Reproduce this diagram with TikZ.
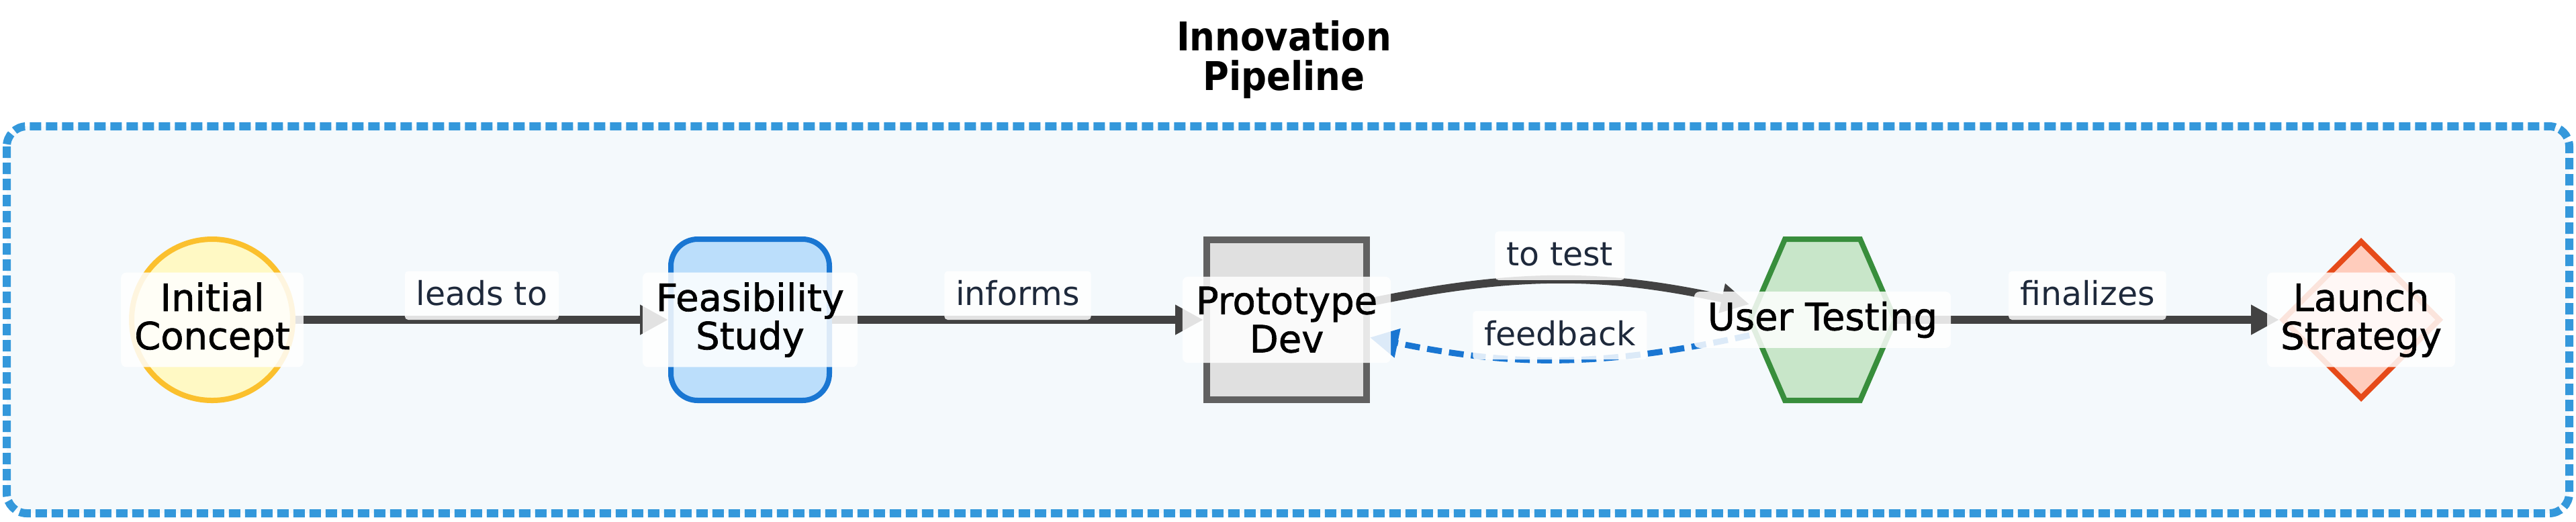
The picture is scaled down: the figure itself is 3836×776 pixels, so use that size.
\documentclass[tikz,border=0pt]{standalone}
\usepackage{fontspec}
\setmainfont{DejaVu Sans}
\newfontfamily\ttlfont{DejaVu Sans Condensed Bold}
\newfontfamily\nodefont{DejaVu Sans}[FakeBold=1.2]
\usetikzlibrary{arrows.meta,shapes.geometric}

\definecolor{framefill}{HTML}{F4F9FC}
\definecolor{frameline}{HTML}{3498DB}
\definecolor{edgegray}{HTML}{424242}
\definecolor{fbblue}{HTML}{1976D2}
\definecolor{lbltext}{HTML}{1E293B}
\definecolor{icfill}{HTML}{FFF9C4}
\definecolor{icline}{HTML}{FBC02D}
\definecolor{fsfill}{HTML}{BBDEFB}
\definecolor{fsline}{HTML}{1976D2}
\definecolor{pdfill}{HTML}{E0E0E0}
\definecolor{pdline}{HTML}{616161}
\definecolor{utfill}{HTML}{C8E6C9}
\definecolor{utline}{HTML}{388E3C}
\definecolor{lsfill}{HTML}{FFCCBC}
\definecolor{lsline}{HTML}{E64A19}

\begin{document}
\begin{tikzpicture}[x=0.25pt,y=0.25pt,yscale=-1,
  shp/.style={line width=2pt,inner sep=0pt},
  txtbox/.style={fill=white,fill opacity=0.85,text opacity=1,rounded corners=2pt,
    inner xsep=5pt,inner ysep=3.7pt,outer sep=0pt,align=center,font=\nodefont\fontsize{14}{14.25}\selectfont},
  lbl/.style={fill=white,fill opacity=0.85,text opacity=1,text=lbltext,rounded corners=1.25pt,
    inner xsep=4.25pt,inner ysep=3.3pt,outer sep=0pt,text height=9.5pt,text depth=2pt,
    font=\fontsize{12.25}{14}\selectfont,anchor=south},
  flow/.style={draw=edgegray,line width=3pt,-{Triangle[length=10.5pt,width=10.5pt]}}]
\useasboundingbox (0,0) rectangle (3836,776);

%Shape: Frame
\draw [draw=frameline,fill=framefill,line width=3pt,dash pattern=on 4.25pt off 1.75pt,rounded corners=7.5pt] (10,188) rectangle (3826,764) ;
% Text Node
\node [font=\ttlfont\fontsize{14.75}{14.75}\selectfont,align=center,inner sep=0pt] (ttl) at (1912,89) {Innovation\\Pipeline};

%Shape: Circle
\node [shp,circle,draw=icline,fill=icfill,minimum size=60pt] (ic) at (316,476) {};
%Shape: Rounded Rectangle
\node [shp,rectangle,rounded corners=10pt,draw=fsline,fill=fsfill,minimum width=59pt,minimum height=60pt] (fs) at (1117,476) {};
%Shape: Rectangle
\node [shp,rectangle,line width=2.5pt,draw=pdline,fill=pdfill,minimum width=59.5pt,minimum height=59.5pt] (pd) at (1916,476) {};
%Shape: Hexagon
\draw [line width=2pt,draw=utline,fill=utfill] (2606,476) -- (2658,356) -- (2770,356) -- (2822,476) -- (2770,596) -- (2658,596) -- cycle ;
\node [inner sep=0pt,minimum width=54pt,minimum height=60pt] (ut) at (2714,476) {};
%Shape: Diamond
\node [shp,diamond,aspect=1,draw=lsline,fill=lsfill,minimum width=59pt,minimum height=59pt] (ls) at (3516,476) {};

%Connectors
\draw [flow] (ic) -- (fs) node [lbl,midway] (lt) {leads to};
\draw [flow] (fs) -- (pd) node [lbl,midway] (inf) {informs};
\draw [flow] (pd) to [bend right=12] node [lbl,midway] (tt) {to test} (ut);
\draw [flow,draw=fbblue,line width=2.25pt,dash pattern=on 5.5pt off 2.75pt] (ut) to [bend right=12] node [lbl,midway] (fb) {feedback} (pd);
\draw [flow] (ut) -- (ls) node [lbl,midway] (fin) {finalizes};

% Text Node
\node [txtbox] (icT) at (ic) {Initial\\Concept};
% Text Node
\node [txtbox] (fsT) at (fs) {Feasibility\\Study};
% Text Node
\node [txtbox] (pdT) at (pd) {Prototype\\Dev};
% Text Node
\node [txtbox] (utT) at (ut) {User Testing};
% Text Node
\node [txtbox] (lsT) at (ls) {Launch\\Strategy};

\end{tikzpicture}
\end{document}
